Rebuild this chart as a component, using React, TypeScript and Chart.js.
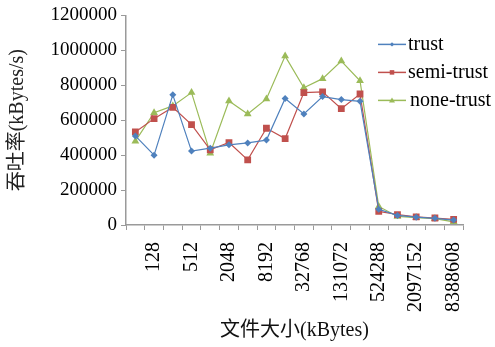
import React, { useEffect, useRef } from "react";
import { Chart, registerables } from "chart.js";

Chart.register(...registerables);

// File sizes in kBytes (powers of two)
const fileSizes = [
  "64", "128", "256", "512", "1024", "2048", "4096", "8192", "16384",
  "32768", "65536", "131072", "262144", "524288", "1048576", "2097152",
  "4194304", "8388608",
];

// Throughput in kBytes/s
const trust = [
  510000, 400000, 745000, 423000, 440000, 459000, 470000, 486000, 724000,
  636000, 735000, 718000, 708000, 90000, 55000, 45000, 38000, 28000,
];
const semiTrust = [
  533000, 609000, 674000, 575000, 430000, 472000, 373000, 554000, 495000,
  758000, 762000, 666000, 750000, 78000, 60000, 47000, 40000, 32000,
];
const noneTrust = [
  480000, 643000, 682000, 758000, 411000, 710000, 636000, 722000, 967000,
  786000, 838000, 939000, 826000, 106000, 49000, 42000, 36000, 18000,
];

const yTicks = [0, 200000, 400000, 600000, 800000, 1000000, 1200000];

const FONT = "'Liberation Serif', 'Noto Sans CJK SC', serif";

const seriesStyles = [
  { label: "trust", data: trust, color: "#4F81BD", point: "rectRot", radius: 3.5, legendRadius: 2.2 },
  { label: "semi-trust", data: semiTrust, color: "#C0504D", point: "rect", radius: 4.8, legendRadius: 3.2 },
  { label: "none-trust", data: noneTrust, color: "#9BBB59", point: "triangle", radius: 4.5, legendRadius: 3 },
];

function drawMarker(ctx: CanvasRenderingContext2D, style: string, x: number, y: number, r: number, color: string) {
  ctx.save();
  ctx.fillStyle = color;
  ctx.beginPath();
  if (style === "rect") {
    const s = r * Math.SQRT1_2;
    ctx.rect(x - s, y - s, 2 * s, 2 * s);
  } else if (style === "triangle") {
    ctx.moveTo(x, y - r);
    ctx.lineTo(x + r, y + r * 0.7);
    ctx.lineTo(x - r, y + r * 0.7);
    ctx.closePath();
  } else {
    ctx.moveTo(x, y - r);
    ctx.lineTo(x + r, y);
    ctx.lineTo(x, y + r);
    ctx.lineTo(x - r, y);
    ctx.closePath();
  }
  ctx.fill();
  ctx.restore();
}

// Legend drawn over the upper right of the plot
const overlayLegend = {
  id: "overlayLegend",
  afterDraw(chart: any) {
    const { ctx, chartArea } = chart;
    const x0 = chartArea.right - 85;
    const y0 = chartArea.top + 29;
    const step = 28;
    ctx.save();
    ctx.font = `20px ${FONT}`;
    ctx.textBaseline = "middle";
    ctx.textAlign = "left";
    seriesStyles.forEach((s, i) => {
      const y = y0 + i * step;
      ctx.strokeStyle = s.color;
      ctx.lineWidth = 1.5;
      ctx.beginPath();
      ctx.moveTo(x0, y);
      ctx.lineTo(x0 + 28, y);
      ctx.stroke();
      drawMarker(ctx, s.point, x0 + 14, y, s.legendRadius, s.color);
      ctx.fillStyle = "#000";
      ctx.fillText(s.label, x0 + 30 + (i === 2 ? 2 : 0), y);
    });
    ctx.restore();
  },
};

export default function App() {
  const canvasRef = useRef<HTMLCanvasElement | null>(null);

  useEffect(() => {
    if (!canvasRef.current) return;
    const chart = new Chart(canvasRef.current, {
      type: "line",
      data: {
        labels: fileSizes,
        datasets: seriesStyles.map((s) => ({
          label: s.label,
          data: s.data,
          borderColor: s.color,
          backgroundColor: s.color,
          borderWidth: 1.2,
          pointStyle: s.point as any,
          pointRadius: s.radius,
          pointBorderWidth: 0,
          tension: 0,
        })),
      },
      options: {
        animation: false,
        responsive: false,
        maintainAspectRatio: false,
        layout: { padding: { left: 0, top: 15, right: 32, bottom: 0 } },
        plugins: {
          legend: { display: false },
          tooltip: { enabled: false },
        },
        scales: {
          x: {
            type: "category",
            offset: true,
            grid: {
              offset: true,
              drawOnChartArea: false,
              drawTicks: true,
              tickLength: 5,
              color: "#9a9a9a",
            },
            border: { color: "#9a9a9a", width: 1.5 },
            ticks: {
              autoSkip: false,
              minRotation: 90,
              maxRotation: 90,
              padding: 12,
              color: "#000",
              font: { family: FONT, size: 20 },
              callback: (_v: any, i: number) => (i % 2 === 1 ? fileSizes[i] : ""),
            },
            title: {
              display: true,
              text: "文件大小(kBytes)",
              color: "#111",
              font: { family: FONT, size: 20 },
              padding: { top: 4, bottom: 4 },
            },
            afterFit: (scale: any) => {
              scale.height = 122;
            },
          },
          y: {
            min: 0,
            max: 1200000,
            afterBuildTicks: (scale: any) => {
              scale.ticks = yTicks.map((v) => ({ value: v }));
            },
            grid: {
              drawOnChartArea: false,
              drawTicks: true,
              tickLength: 5,
              color: "#9a9a9a",
            },
            border: { color: "#9a9a9a", width: 1.5 },
            ticks: {
              padding: 4,
              color: "#000",
              font: { family: FONT, size: 19 },
              callback: (v: any) => String(v),
            },
            title: {
              display: true,
              text: "吞吐率(kBytes/s)",
              color: "#222",
              font: { family: FONT, size: 20 },
              padding: { top: 6, bottom: 0 },
            },
            afterFit: (scale: any) => {
              scale.width = 126;
            },
          },
        },
      },
      plugins: [overlayLegend],
    });
    return () => chart.destroy();
  }, []);

  return (
    <div style={{ position: "fixed", left: 0, top: 0, width: 495, height: 347, background: "#fff" }}>
      <canvas ref={canvasRef} width={495} height={347} style={{ display: "block" }} />
    </div>
  );
}
